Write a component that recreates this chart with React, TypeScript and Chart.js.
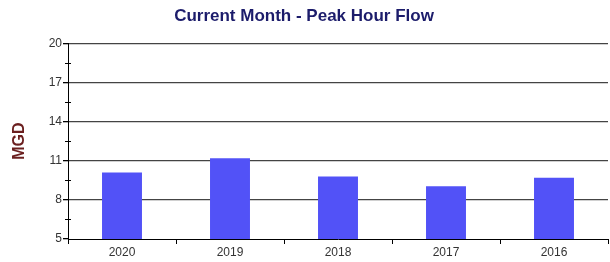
import React, { useEffect, useRef } from "react";
import { Chart, registerables } from "chart.js";

Chart.register(...registerables);

const categories = ["2020", "2019", "2018", "2017", "2016"];
const peakFlow = [10.1, 11.2, 9.8, 9.05, 9.7];
const yMin = 5;
const yMax = 20;
const yStep = 1.5;

const FONT = "'Liberation Sans', Arial, sans-serif";

const isMajor = (v: number) => Math.round((v - yMin) / yStep) % 2 === 0;

const minorTicks = {
  id: "minorTicks",
  afterDraw(chart: any) {
    const y = chart.scales.y;
    const ctx = chart.ctx;
    ctx.save();
    ctx.strokeStyle = "#000";
    ctx.lineWidth = 1;
    y.ticks.forEach((t: any) => {
      if (!isMajor(t.value)) {
        const py = Math.round(y.getPixelForValue(t.value)) + 0.5;
        ctx.beginPath();
        ctx.moveTo(y.right - 3, py);
        ctx.lineTo(y.right + 3, py);
        ctx.stroke();
      }
    });
    ctx.restore();
  },
};

export default function App() {
  const ref = useRef<HTMLCanvasElement>(null);
  useEffect(() => {
    if (!ref.current) return;
    const chart = new Chart(ref.current, {
      type: "bar",
      data: {
        labels: categories,
        datasets: [
          {
            label: "MGD",
            data: peakFlow,
            backgroundColor: "#5252F7",
            borderWidth: 0,
            barPercentage: 0.37,
            categoryPercentage: 1,
          },
        ],
      },
      plugins: [minorTicks],
      options: {
        animation: false,
        responsive: false,
        maintainAspectRatio: false,
        layout: { padding: { left: 0, right: 2, top: 0, bottom: 0 } },
        plugins: {
          legend: { display: false },
          tooltip: { enabled: false },
          title: {
            display: true,
            text: "Current Month - Peak Hour Flow",
            color: "#1c1c6b",
            font: { family: FONT, size: 17, weight: "bold" },
            padding: { top: 6, bottom: 17 },
          },
        },
        scales: {
          x: {
            offset: true,
            grid: {
              offset: true,
              drawOnChartArea: false,
              drawTicks: true,
              tickLength: 5,
              color: "#000",
            },
            border: { color: "#000", width: 1 },
            ticks: {
              color: "#333",
              font: { family: FONT, size: 12 },
              padding: 1,
            },
            afterFit: (s: any) => {
              s.height = 23;
            },
          },
          y: {
            min: yMin,
            max: yMax,
            grid: {
              color: (ctx: any) =>
                ctx.tick && isMajor(ctx.tick.value) && ctx.tick.value !== yMin
                  ? "#444"
                  : "rgba(0,0,0,0)",
              tickColor: (ctx: any) =>
                ctx.tick && isMajor(ctx.tick.value) ? "#000" : "rgba(0,0,0,0)",
              tickLength: 5,
              lineWidth: 1.3,
            },
            border: { color: "#000", width: 1 },
            ticks: {
              stepSize: yStep,
              color: "#333",
              font: { family: FONT, size: 12 },
              padding: 1,
              callback: (v: any) => (isMajor(Number(v)) ? String(v) : ""),
            },
            title: {
              display: true,
              text: "MGD",
              color: "#6b1f1f",
              font: { family: FONT, size: 16, weight: "bold" },
              padding: { top: 10, bottom: 0 },
            },
            afterFit: (s: any) => {
              s.width = 68;
            },
          },
        },
      },
    });
    return () => chart.destroy();
  }, []);
  return (
    <div style={{ position: "absolute", left: 0, top: 0, width: 610, height: 262, background: "#fff" }}>
      <canvas ref={ref} width={610} height={262} style={{ width: 610, height: 262 }} />
    </div>
  );
}
